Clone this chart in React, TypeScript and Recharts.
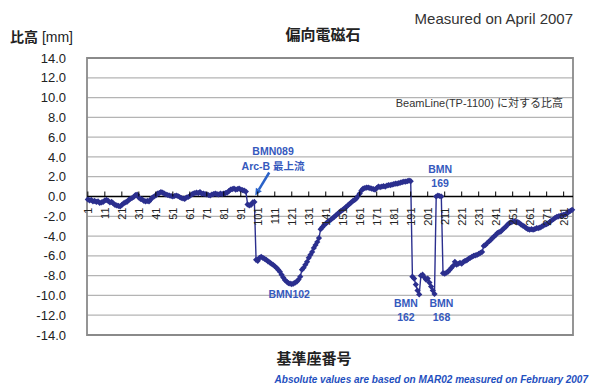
import {
  CartesianGrid,
  Line,
  LineChart,
  ReferenceArea,
  ReferenceDot,
  ReferenceLine,
  XAxis,
  YAxis,
} from "recharts";

// 比高 [mm] at each reference point (基準座番号 1..286), split by stretch of the line
const upstream = [
  -0.3, -0.4, -0.35, -0.5, -0.45, -0.55, -0.5, -0.65, -0.6, -0.55,
  -0.4, -0.35, -0.45, -0.6, -0.55, -0.7, -0.85, -0.9, -0.95, -1.0,
  -0.85, -0.7, -0.6, -0.55, -0.35, -0.25, -0.15, -0.05, 0.15, 0.2,
  -0.1, -0.25, -0.3, -0.45, -0.5, -0.45, -0.5, -0.3, -0.1, 0.0,
  0.1, 0.3, 0.35, 0.45, 0.4, 0.3, 0.2, 0.15, 0.1, 0.05,
  0.0, 0.05, 0.1, 0.05, -0.05, -0.15, -0.2, -0.25, -0.1, -0.05,
  0.05, 0.2, 0.3, 0.35, 0.4, 0.35, 0.45, 0.3, 0.3, 0.25,
  0.2, 0.15, 0.1, 0.2, 0.25, 0.3, 0.25, 0.2, 0.3, 0.25,
  0.3, 0.35, 0.4, 0.55, 0.7, 0.75, 0.8, 0.7, 0.75, 0.8,
  0.7, 0.65, 0.6, 0.5, -0.8, -0.9, -0.85, -0.6, -0.55,
];

const arcB = [
  -6.4, -6.5, -6.2, -6.1, -6.2, -6.3, -6.4, -6.55, -6.65, -6.8, -6.9,
  -7.05, -7.2, -7.4, -7.6, -7.9, -8.2, -8.45, -8.6, -8.75, -8.8,
  -8.85, -8.8, -8.7, -8.6, -8.4, -8.1, -7.4, -7.2, -6.9, -6.6,
  -6.2, -5.9, -5.6, -5.2, -4.9, -4.6, -4.2, -3.3, -3.1, -2.9,
  -2.75, -2.6, -2.45, -2.35, -2.2, -2.05, -1.9, -1.75, -1.6, -1.45,
  -1.35, -1.2, -1.05, -0.9, -0.75, -0.6, -0.45, -0.35, -0.2, 0.05,
  0.3, 0.6, 0.8, 0.85, 0.9, 0.9, 0.85, 0.8, 0.75, 0.7,
  0.85, 1.0, 0.95, 1.0, 1.05, 1.0, 1.1, 1.15, 1.15, 1.2,
  1.25, 1.3, 1.3, 1.35, 1.4, 1.45, 1.5, 1.5, 1.55, 1.6, 1.55,
];

const bmn162to169 = [
  -8.1, -8.3, -8.9, -9.5, -9.9, -8.0, -7.9, -8.15, -8.4, -8.3,
  -8.7, -9.1, -9.5, -9.85, 0.0, 0.1, 0.05, 0.0,
];

const downstream = [
  -7.75,
  -7.8, -7.7, -7.6, -7.4, -7.2, -7.0, -6.6, -6.9, -6.8, -6.7,
  -6.8, -6.6, -6.5, -6.45, -6.3, -6.2, -6.1, -6.0, -5.95, -5.9,
  -5.8, -5.7, -5.6, -5.0, -4.9, -4.7, -4.55, -4.4, -4.2, -4.05,
  -3.9, -3.7, -3.6, -3.55, -3.35, -3.2, -3.05, -2.85, -2.7, -2.6,
  -2.55, -2.5, -2.55, -2.6, -2.7, -2.85, -2.95, -3.05, -3.2, -3.3,
  -3.35, -3.3, -3.35, -3.3, -3.2, -3.2, -3.15, -3.05, -2.95, -2.85,
  -2.8, -2.7, -2.55, -2.4, -2.3, -2.15, -2.05, -2.0, -1.95, -1.9,
  -1.85, -1.8, -1.7, -1.55, -1.45, -1.35,
];

const heights = [...upstream, ...arcB, ...bmn162to169, ...downstream];
const rows = heights.map((v, i) => ({ idx: i + 1, v }));

const X_TICKS = [1, 11, 21, 31, 41, 51, 61, 71, 81, 91, 101, 111, 121, 131, 141,
  151, 161, 171, 181, 191, 201, 211, 221, 231, 241, 251, 261, 271, 281];
const Y_TICKS = [14, 12, 10, 8, 6, 4, 2, 0, -2, -4, -6, -8, -10, -12, -14];
const Y_MIN = -14;
const Y_MAX = 14;
const Y_MINOR = Array.from({ length: 71 }, (_, k) => Y_MIN + k * 0.4);

const W = 590;
const H = 385;
const MARGIN = { top: 58, right: 17, bottom: 20, left: 0 };
const Y_AXIS_W = 87;
const X_AXIS_H = 30;
const PLOT_H = H - MARGIN.top - MARGIN.bottom - X_AXIS_H;
const ZERO_Y = MARGIN.top + (PLOT_H * Y_MAX) / (Y_MAX - Y_MIN);

const LINE_COLOR = "#2b2f8e";
const NOTE_COLOR = "#3559bd";
const LATIN = "'Liberation Sans', Arial, 'Noto Sans CJK JP', sans-serif";

// category ticks sit on the zero line, labels rotated underneath it
function ZeroTick(props: any) {
  const { x, payload } = props;
  return (
    <g>
      <line x1={x} x2={x} y1={ZERO_Y} y2={ZERO_Y - 5} stroke="#000" strokeWidth={1} />
      <text
        transform={`translate(${x + 4},${ZERO_Y + 11}) rotate(-90)`}
        textAnchor="end"
        fontSize={11}
        fontFamily={LATIN}
        fill="#222"
      >
        {payload.value}
      </text>
    </g>
  );
}

// short minor marks just inside the left edge of the plot
function MinorTick(props: any) {
  const { y } = props;
  return <line x1={Y_AXIS_W} x2={Y_AXIS_W + 3.5} y1={y} y2={y} stroke="#8a8a8a" strokeWidth={1} />;
}

function Diamond(props: any) {
  const { cx, cy, index } = props;
  if (cx == null || cy == null) return <g key={`d${index}`} />;
  const r = 3.1;
  return (
    <path
      key={`d${index}`}
      d={`M${cx},${cy - r}L${cx + r},${cy}L${cx},${cy + r}L${cx - r},${cy}Z`}
      fill={LINE_COLOR}
    />
  );
}

function note(lines: string[], gap = 14) {
  return (props: any) => (
    <text
      x={props.cx}
      y={props.cy}
      textAnchor="middle"
      fontSize={10.5}
      fontWeight="bold"
      fontFamily={LATIN}
      fill={NOTE_COLOR}
    >
      {lines.map((t, k) => (
        <tspan key={k} x={props.cx} dy={k === 0 ? 0 : gap}>
          {t}
        </tspan>
      ))}
    </text>
  );
}

// arrow from the Arc-B label down to the start of the chain
function Arrow(props: any) {
  const { cx, cy } = props;
  const tx = cx + 14;
  const ty = cy - 23;
  const ang = Math.atan2(cy - ty, cx - tx);
  const hl = 7;
  const hw = 3.5;
  const bx = cx - hl * Math.cos(ang);
  const by = cy - hl * Math.sin(ang);
  const nx = -Math.sin(ang) * hw;
  const ny = Math.cos(ang) * hw;
  return (
    <g>
      <line x1={tx} y1={ty} x2={bx} y2={by} stroke="#2a62c8" strokeWidth={2.5} />
      <polygon points={`${cx},${cy} ${bx + nx},${by + ny} ${bx - nx},${by - ny}`} fill="#2a62c8" />
    </g>
  );
}

export default function App() {
  return (
    <div style={{ position: "absolute", left: 0, top: 0, width: W, height: H, background: "#fff" }}>
      <LineChart width={W} height={H} data={rows} margin={MARGIN}>
        <CartesianGrid vertical={false} stroke="#b4b4b4" strokeWidth={1.2} />
        <ReferenceArea
          x1={0.5}
          x2={286.5}
          y1={Y_MIN}
          y2={Y_MAX}
          fill="none"
          stroke="#8a8a8a"
          strokeWidth={1.8}
        />
        <XAxis
          type="number"
          dataKey="idx"
          domain={[0.5, 286.5]}
          ticks={X_TICKS}
          interval={0}
          height={X_AXIS_H}
          axisLine={false}
          tickLine={false}
          tick={<ZeroTick />}
        />
        <YAxis
          domain={[Y_MIN, Y_MAX]}
          ticks={Y_TICKS}
          interval={0}
          width={Y_AXIS_W}
          axisLine={false}
          tickLine={false}
          tickMargin={15}
          tickFormatter={(v: number) => v.toFixed(1)}
          tick={{ fontSize: 13, fill: "#222", fontFamily: LATIN }}
        />
        <YAxis
          yAxisId="minor"
          orientation="left"
          mirror
          domain={[Y_MIN, Y_MAX]}
          ticks={Y_MINOR}
          interval={0}
          axisLine={false}
          tickLine={false}
          tick={<MinorTick />}
        />
        <ReferenceLine y={0} stroke="#000" strokeWidth={1.5} />
        <Line
          type="linear"
          dataKey="v"
          stroke={LINE_COLOR}
          strokeWidth={1.4}
          dot={Diamond}
          isAnimationActive={false}
        />
        <ReferenceDot x={110} y={4.2} r={0} ifOverflow="visible" shape={note(["BMN089", "Arc-B 最上流"], 15)} />
        <ReferenceDot x={99.5} y={0.1} r={0} ifOverflow="visible" shape={Arrow} />
        <ReferenceDot x={119.5} y={-10.3} r={0} ifOverflow="visible" shape={note(["BMN102"])} />
        <ReferenceDot x={188.2} y={-11.2} r={0} ifOverflow="visible" shape={note(["BMN", "162"])} />
        <ReferenceDot x={209.1} y={-11.2} r={0} ifOverflow="visible" shape={note(["BMN", "168"])} />
        <ReferenceDot x={208.3} y={2.4} r={0} ifOverflow="visible" shape={note(["BMN", "169"])} />
      </LineChart>

      <svg
        width={W}
        height={H}
        style={{ position: "absolute", left: 0, top: 0, pointerEvents: "none" }}
      >
        <text x={10} y={42} fontSize={14} fontFamily={LATIN} fill="#222">
          <tspan fontWeight="bold">比高</tspan>
          <tspan> [mm]</tspan>
        </text>
        <text x={323} y={40} textAnchor="middle" fontSize={15} fontWeight="bold" fontFamily={LATIN} fill="#222">
          偏向電磁石
        </text>
        <text x={573} y={24} textAnchor="end" fontSize={15} fontFamily={LATIN} fill="#333">
          Measured on April 2007
        </text>
        <text x={563} y={107} textAnchor="end" fontSize={11} fontFamily={LATIN} fill="#333">
          BeamLine(TP-1100) に対する比高
        </text>
        <text x={314} y={364} textAnchor="middle" fontSize={15} fontWeight="bold" fontFamily={LATIN} fill="#222">
          基準座番号
        </text>
        <text
          x={588}
          y={383}
          textAnchor="end"
          fontSize={10}
          fontWeight="bold"
          fontStyle="italic"
          fontFamily={LATIN}
          fill="#1f50c0"
        >
          Absolute values are based on MAR02 measured on February 2007
        </text>
      </svg>
    </div>
  );
}
